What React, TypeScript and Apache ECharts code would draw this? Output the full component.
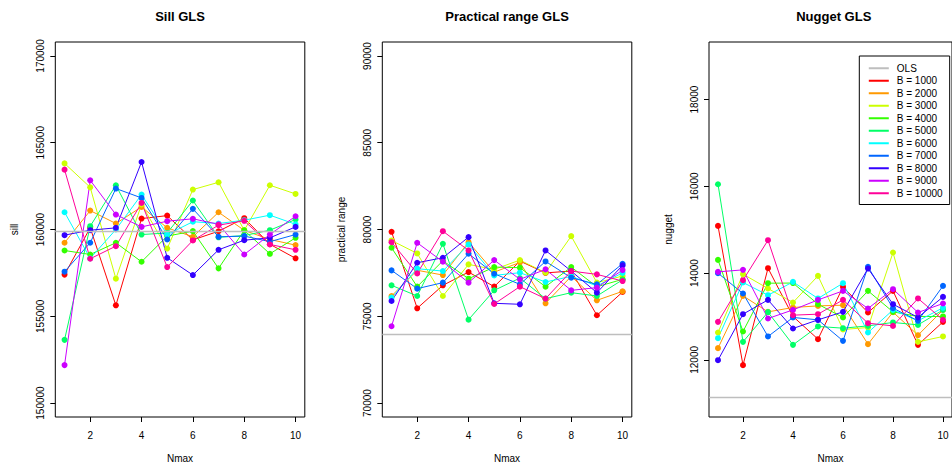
import React, { useEffect, useRef } from "react";
import * as echarts from "echarts";

// ---------- data ----------
const NMAX = [1, 2, 3, 4, 5, 6, 7, 8, 9, 10];
const B_NAMES = ["B = 1000", "B = 2000", "B = 3000", "B = 4000", "B = 5000", "B = 6000", "B = 7000", "B = 8000", "B = 9000", "B = 10000"];
const COLORS = ["#FF0000", "#FF9900", "#CCFF00", "#33FF00", "#00FF66", "#00FFFF", "#0066FF", "#3300FF", "#CC00FF", "#FF0099"];
const OLS_COLOR = "#BEBEBE";

const X_TICKS = [2, 4, 6, 8, 10];
const SILL_TICKS = [150000, 155000, 160000, 165000, 170000];
const RANGE_TICKS = [70000, 75000, 80000, 85000, 90000];
const NUGGET_TICKS = [12000, 14000, 16000, 18000];

// Sill
const SILL_B1000 = [157400, 160100, 155630, 160630, 160800, 159400, 159900, 160650, 159150, 158340];
const SILL_B2000 = [159235, 161090, 160345, 161300, 160095, 159580, 160995, 159950, 159425, 159100];
const SILL_B3000 = [163810, 162430, 157165, 161440, 158900, 162300, 162720, 159950, 162550, 162050];
const SILL_B4000 = [158790, 158560, 159235, 158140, 159620, 159905, 157760, 159950, 158600, 159520];
const SILL_B5000 = [153640, 160190, 162550, 159710, 159800, 161670, 159550, 159650, 159960, 160575];
const SILL_B6000 = [160995, 158335, 160000, 162010, 159710, 160450, 160345, 160535, 160825, 160300];
const SILL_B7000 = [157570, 159235, 162360, 161820, 159425, 161190, 159580, 159620, 159300, 159710];
const SILL_B8000 = [159675, 159960, 160095, 163890, 158370, 157375, 158830, 159385, 159520, 160150];
const SILL_B9000 = [152185, 162835, 160860, 160150, 160480, 160615, 160300, 158560, 159710, 160765];
const SILL_B10000 = [163450, 158315, 159040, 161530, 157835, 159370, 160250, 160500, 159140, 158830];
const SILL_OLS = 159885;

// Practical range
const RANGE_B1000 = [79866, 75460, 76782, 77546, 76707, 78180, 77500, 77604, 75057, 76398];
const RANGE_B2000 = [76168, 77650, 77374, 79270, 77546, 78100, 75747, 77300, 75920, 76437];
const RANGE_B3000 = [79368, 78620, 76168, 77989, 77700, 78236, 77510, 79617, 76937, 77317];
const RANGE_B4000 = [78948, 76707, 78200, 77165, 77835, 77800, 76707, 77835, 76700, 77127];
const RANGE_B5000 = [76782, 76168, 79176, 74805, 76494, 77200, 76015, 76360, 76168, 77100];
const RANGE_B6000 = [76073, 77740, 77604, 79138, 77356, 77510, 76975, 77300, 76750, 77500];
const RANGE_B7000 = [77644, 76592, 76937, 78603, 77450, 76840, 78161, 77222, 76840, 78027];
const RANGE_B8000 = [75880, 78084, 78373, 79560, 75747, 75690, 78793, 77604, 76360, 77931];
const RANGE_B9000 = [74425, 79234, 78143, 76937, 78236, 77127, 77701, 76494, 76650, 77663];
const RANGE_B10000 = [79270, 77471, 79904, 78793, 75710, 76707, 76015, 77604, 77414, 77030];
const RANGE_OLS = 73943;

// Nugget
const NUGGET_B1000 = [15088, 11878, 14113, 13000, 12477, 13680, 13092, 13590, 12346, 12876];
const NUGGET_B2000 = [12270, 13475, 13106, 13207, 13244, 13260, 12362, 13100, 12569, 13150];
const NUGGET_B3000 = [12630, 13975, 13645, 13322, 13935, 12700, 12746, 14474, 12415, 12539];
const NUGGET_B4000 = [14304, 12654, 13767, 13770, 13283, 12977, 13590, 13106, 13000, 13000];
const NUGGET_B5000 = [16048, 12415, 13100, 12346, 12770, 12730, 12783, 12862, 12806, 13150];
const NUGGET_B6000 = [12500, 13783, 13490, 13797, 13415, 13767, 12630, 13150, 12900, 13200];
const NUGGET_B7000 = [13998, 13530, 12539, 12977, 12922, 12438, 14143, 13191, 12900, 13705];
const NUGGET_B8000 = [11993, 13053, 13382, 12723, 12922, 13106, 14105, 13283, 12977, 13451];
const NUGGET_B9000 = [14028, 14074, 12953, 13152, 13382, 13590, 13184, 13629, 13092, 13299];
const NUGGET_B10000 = [12876, 13836, 14758, 13030, 13053, 13382, 12845, 12783, 13415, 12922];
const NUGGET_OLS = 11134;

const SILL_SERIES = [SILL_B1000, SILL_B2000, SILL_B3000, SILL_B4000, SILL_B5000, SILL_B6000, SILL_B7000, SILL_B8000, SILL_B9000, SILL_B10000];
const RANGE_SERIES = [RANGE_B1000, RANGE_B2000, RANGE_B3000, RANGE_B4000, RANGE_B5000, RANGE_B6000, RANGE_B7000, RANGE_B8000, RANGE_B9000, RANGE_B10000];
const NUGGET_SERIES = [NUGGET_B1000, NUGGET_B2000, NUGGET_B3000, NUGGET_B4000, NUGGET_B5000, NUGGET_B6000, NUGGET_B7000, NUGGET_B8000, NUGGET_B9000, NUGGET_B10000];

// ---------- layout ----------
const FONT = "'Liberation Sans', Arial, Helvetica, sans-serif";
const GRID_TOP = 42;
const GRID_H = 376;
const GRID_W = 249.5;

const PANELS = [
  { title: "Sill GLS", yName: "sill", series: SILL_SERIES, ols: SILL_OLS, ticks: SILL_TICKS, ymin: 149195, ymax: 170805, left: 55.3 },
  { title: "Practical range GLS", yName: "practical range", series: RANGE_SERIES, ols: RANGE_OLS, ticks: RANGE_TICKS, ymin: 69195, ymax: 90805, left: 382.3 },
  { title: "Nugget GLS", yName: "nugget", series: NUGGET_SERIES, ols: NUGGET_OLS, ticks: NUGGET_TICKS, ymin: 10683, ymax: 19326, left: 709 },
];

function buildOption() {
  const textBase = { fontFamily: FONT, color: "#000" };
  const series: any[] = [];
  PANELS.forEach((p, i) => {
    p.series.forEach((vals, j) => {
      series.push({
        type: "line",
        name: B_NAMES[j],
        xAxisIndex: i,
        yAxisIndex: i,
        data: NMAX.map((n, k) => [n, vals[k]]),
        symbol: "circle",
        symbolSize: 6,
        showAllSymbol: true,
        lineStyle: { width: 1, color: COLORS[j] },
        itemStyle: { color: COLORS[j] },
        emphasis: { disabled: true },
        silent: true,
        z: 2,
      });
    });
    series.push({
      type: "line",
      name: "OLS",
      xAxisIndex: i,
      yAxisIndex: i,
      data: [],
      itemStyle: { color: OLS_COLOR },
      lineStyle: { color: OLS_COLOR },
      silent: true,
      z: 3,
      markLine: {
        silent: true,
        symbol: "none",
        label: { show: false },
        emphasis: { disabled: true },
        lineStyle: { color: OLS_COLOR, type: "solid", width: 1.3 },
        data: [{ yAxis: p.ols }],
      },
    });
  });

  return {
    animation: false,
    backgroundColor: "#fff",
    title: PANELS.map((p) => ({
      text: p.title,
      left: p.left + GRID_W / 2,
      top: 10,
      padding: 0,
      textAlign: "center",
      textStyle: { ...textBase, fontSize: 13, fontWeight: "bold" },
    })),
    legend: {
      data: ["OLS", ...B_NAMES],
      orient: "vertical",
      left: 859.3,
      top: 56,
      icon: "rect",
      itemWidth: 20,
      itemHeight: 2,
      itemGap: 0,
      padding: [6, 7, 5, 9.5],
      borderColor: "#000",
      borderWidth: 1,
      backgroundColor: "#fff",
      selectedMode: false,
      textStyle: { ...textBase, fontSize: 10, lineHeight: 12.5, padding: [0, 0, 0, 3] },
      z: 10,
    },
    grid: PANELS.map((p) => ({
      left: p.left,
      top: GRID_TOP,
      width: GRID_W,
      height: GRID_H,
      show: true,
      borderColor: "#000",
      borderWidth: 1,
      backgroundColor: "transparent",
    })),
    xAxis: PANELS.map((p, i) => ({
      type: "value",
      gridIndex: i,
      min: 0.64,
      max: 10.36,
      name: "Nmax",
      nameLocation: "middle",
      nameGap: 36,
      nameTextStyle: { ...textBase, fontSize: 10 },
      axisLine: { show: false },
      splitLine: { show: false },
      axisTick: { show: true, length: 5, customValues: X_TICKS, lineStyle: { color: "#000", width: 1 } },
      axisLabel: { ...textBase, fontSize: 10, margin: 13, customValues: X_TICKS, formatter: (v: number) => String(v) },
    })),
    yAxis: PANELS.map((p, i) => ({
      type: "value",
      gridIndex: i,
      min: p.ymin,
      max: p.ymax,
      name: p.yName,
      nameLocation: "middle",
      nameGap: 36,
      nameTextStyle: { ...textBase, fontSize: 10 },
      axisLine: { show: false },
      splitLine: { show: false },
      axisTick: { show: true, length: 5, customValues: p.ticks, lineStyle: { color: "#000", width: 1 } },
      axisLabel: { ...textBase, fontSize: 10, margin: 10, rotate: 90, customValues: p.ticks, formatter: (v: number) => String(v) },
    })),
    series,
  };
}

export default function App() {
  const ref = useRef<HTMLDivElement>(null);
  useEffect(() => {
    if (!ref.current) return;
    const chart = echarts.init(ref.current, null, { renderer: "svg" });
    chart.setOption(buildOption());
    return () => chart.dispose();
  }, []);
  return (
    <div
      ref={ref}
      style={{ position: "fixed", left: 0, top: 0, width: 952, height: 468, background: "#fff", overflow: "hidden" }}
    />
  );
}
